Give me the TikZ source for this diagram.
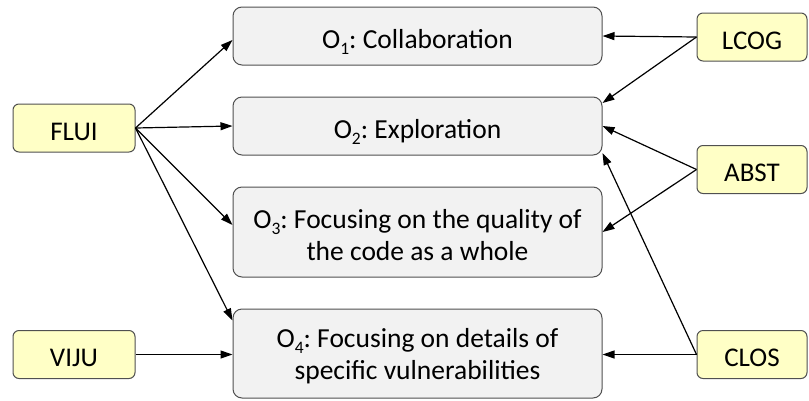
\documentclass[tikz,border=0pt]{standalone}
\usepackage{fontspec}
\setmainfont{Carlito}
\frenchspacing
\usetikzlibrary{arrows.meta,calc}
\definecolor{boxyellow}{HTML}{FFFFC6}
\definecolor{boxgray}{HTML}{F2F2F2}
\definecolor{edgegray}{HTML}{505050}
\newcommand{\osub}[1]{\raisebox{-6pt}[0pt][0pt]{\fontsize{17.5}{17.5}\selectfont #1}}
\newcommand{\tallstrut}{\rule{0pt}{25pt}}
\tikzset{
  factor/.style={draw=edgegray, fill=boxyellow, line width=1pt, rounded corners=6pt,
    minimum height=48pt, inner sep=0pt, text height=24pt, text depth=0pt, font=\fontsize{27}{32}\selectfont},
  outcome/.style={draw=edgegray, fill=boxgray, line width=1pt, rounded corners=9pt,
    minimum width=369pt, inner sep=0pt, align=center, font=\fontsize{27.5}{32}\selectfont},
  oneline/.style={text height=25.5pt, text depth=0pt},
  link/.style={line width=1.2pt, -{Triangle[length=12pt,width=8pt]}}
}
\begin{document}
\begin{tikzpicture}[x=1pt,y=-1pt]
\useasboundingbox (0,0) rectangle (809,400);
% outcome boxes
\node[outcome, oneline, minimum height=58pt] (O1) at (417.5,36) {O\osub{1}: Collaboration};
\node[outcome, oneline, minimum height=58pt] (O2) at (417.5,126) {O\osub{2}: Exploration};
\node[outcome, minimum height=90pt] (O3) at (417.5,232) {\tallstrut O\osub{3}: Focusing on the quality of\\the code as a whole};
\node[outcome, minimum height=89pt] (O4) at (417.5,353.5) {\tallstrut O\osub{4}: Focusing on details of\\specific vulnerabilities};
% factor boxes
\node[factor, minimum width=122pt] (FLUI) at (74,128) {FLUI};
\node[factor, minimum width=122pt] (VIJU) at (74,354.5) {VIJU};
\node[factor, minimum width=110pt] (LCOG) at (752,37) {LCOG};
\node[factor, minimum width=110pt] (ABST) at (752,169.5) {ABST};
\node[factor, minimum width=110pt] (CLOS) at (752,354.5) {CLOS};
% connectors
\draw[link] (FLUI.east) -- ($(O1.west)+(0,4)$);
\draw[link] (FLUI.east) -- (O2.west);
\draw[link] (FLUI.east) -- ($(O3.west)+(0,-7)$);
\draw[link] (FLUI.east) -- ($(O4.west)+(0,-33)$);
\draw[link] (VIJU.east) -- (VIJU.east -| O4.west);
\draw[link] (LCOG.west) -- (O1.east);
\draw[link] (LCOG.west) -- ($(O2.east)+(0,-23)$);
\draw[link] (ABST.west) -- (O2.east);
\draw[link] (ABST.west) -- (O3.east);
\draw[link] (CLOS.west) -- ($(O2.east)+(0,27)$);
\draw[link] (CLOS.west) -- (CLOS.west -| O4.east);
\end{tikzpicture}
\end{document}
